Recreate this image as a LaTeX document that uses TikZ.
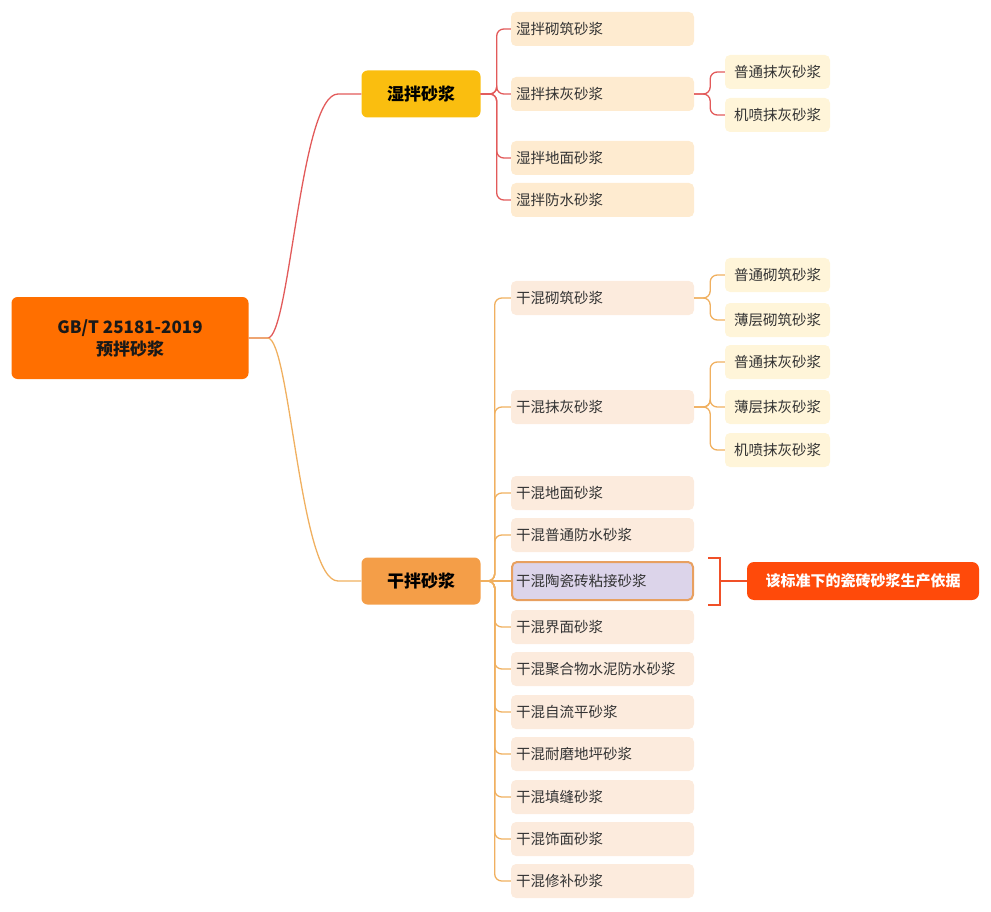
\documentclass[tikz,border=0pt]{standalone}
\usepackage{fontspec}
\setmainfont{Noto Sans CJK SC}
\begin{document}
\begin{tikzpicture}[x=1pt,y=-1pt,
  box/.style={rounded corners=5pt,minimum height=34pt,inner sep=0pt,font=\fontsize{14.5}{16}\selectfont,text=black!80},
  kid/.style={box,fill=#1,minimum width=183pt,text width=173pt,align=left},
  gkid/.style={box,fill=#1,minimum width=105pt,align=center},
  wl/.style={draw=red!60!orange!80,line width=1.3pt,rounded corners=7pt},
  dl/.style={draw=orange!60!yellow!80!brown,line width=1.3pt,rounded corners=7pt}]
\definecolor{wetc}{HTML}{FEEBD0}
\definecolor{wetg}{HTML}{FFF5D9}
\definecolor{dryc}{HTML}{FCEBDD}
\definecolor{lav}{HTML}{DCD4EA}
\colorlet{wline}{red!75!orange!90}
\tikzset{wl/.style={draw={rgb,255:red,226;green,90;blue,90},line width=1.3pt,rounded corners=7pt},
dl/.style={draw={rgb,255:red,240;green,176;blue,96},line width=1.3pt,rounded corners=7pt}}
\useasboundingbox (0,0) rectangle (991,912);
\node[fill={rgb,255:red,255;green,111;blue,0},rounded corners=6pt,minimum width=237pt,minimum height=82pt,align=center,font=\fontsize{17}{22}\selectfont\bfseries,text=black!90] (root) at (130,338) {GB/T 25181-2019\\预拌砂浆};
\node[fill={rgb,255:red,250;green,190;blue,15},rounded corners=6pt,minimum width=119pt,minimum height=47pt,font=\fontsize{17}{20}\selectfont\bfseries] (wet) at (421,94) {湿拌砂浆};
\node[fill={rgb,255:red,244;green,158;blue,72},rounded corners=6pt,minimum width=119pt,minimum height=47pt,font=\fontsize{17}{20}\selectfont\bfseries] (dry) at (421,581) {干拌砂浆};
\draw[wl] (root.east) -- ++(12,0) .. controls (290,338) and (300,94) .. (345,94) -- (wet.west);
\draw[dl] (root.east) -- ++(12,0) .. controls (290,338) and (300,581) .. (345,581) -- (dry.west);
% wet children
\foreach \n/\y/\t in {w1/29/湿拌砌筑砂浆,w2/94/湿拌抹灰砂浆,w3/158/湿拌地面砂浆,w4/200/湿拌防水砂浆}{
  \node[kid=wetc] (\n) at (602.5,\y) {\t};
  \draw[wl] (wet.east) -- ++(16,0) |- (\n.west);}
\foreach \n/\y/\t in {wg1/72/普通抹灰砂浆,wg2/115/机喷抹灰砂浆}{
  \node[gkid=wetg] (\n) at (777.5,\y) {\t};
  \draw[wl] (w2.east) -- ++(16,0) |- (\n.west);}
% dry children
\foreach \n/\y/\t in {d1/298/干混砌筑砂浆,d2/407/干混抹灰砂浆,d3/493/干混地面砂浆,d4/535/干混普通防水砂浆,d6/627/干混界面砂浆,d7/669/干混聚合物水泥防水砂浆,d8/712/干混自流平砂浆,d9/754/干混耐磨地坪砂浆,d10/797/干混填缝砂浆,d11/839/干混饰面砂浆,d12/881/干混修补砂浆}{
  \node[kid=dryc] (\n) at (602.5,\y) {\t};
  \draw[dl] (dry.east) -- ++(14,0) |- (\n.west);}
\node[kid=lav,draw={rgb,255:red,232;green,160;blue,96},line width=2pt,minimum width=181pt,minimum height=38pt] (d5) at (602.5,581) {干混陶瓷砖粘接砂浆};
\draw[dl] (dry.east) -- (d5.west);
\foreach \n/\y/\t in {dg1/275/普通砌筑砂浆,dg2/320/薄层砌筑砂浆}{
  \node[gkid=wetg] (\n) at (777.5,\y) {\t};
  \draw[dl] (d1.east) -- ++(16,0) |- (\n.west);}
\foreach \n/\y/\t in {dg3/362/普通抹灰砂浆,dg4/407/薄层抹灰砂浆,dg5/450/机喷抹灰砂浆}{
  \node[gkid=wetg] (\n) at (777.5,\y) {\t};
  \draw[dl] (d2.east) -- ++(16,0) |- (\n.west);}
% callout
\node[fill={rgb,255:red,255;green,74;blue,10},rounded corners=7pt,minimum width=232pt,minimum height=38pt,text=white,font=\fontsize{15}{18}\selectfont\bfseries] (note) at (863,581) {该标准下的瓷砖砂浆生产依据};
\coordinate (bt) at (708,558);
\coordinate (bb) at (708,605);
\draw[draw={rgb,255:red,240;green,80;blue,40},line width=1.5pt] (bt) -- ++(12,0) -- ++(0,47) -- (bb);
\draw[draw={rgb,255:red,240;green,80;blue,40},line width=1.5pt] (720,581) -- (note.west);
\end{tikzpicture}
\end{document}
